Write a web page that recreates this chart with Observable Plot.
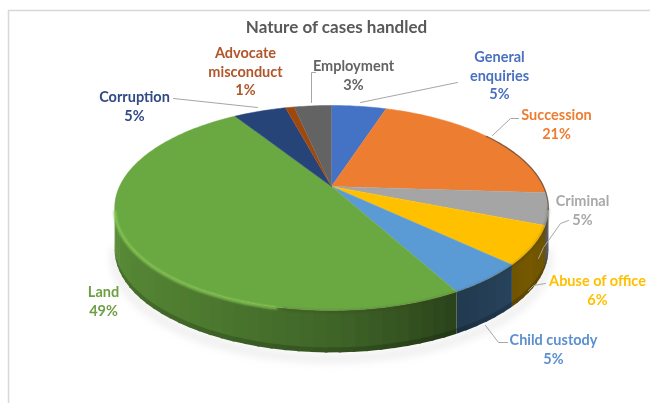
<!DOCTYPE html>
<html><head><meta charset="utf-8">
<script src="https://cdn.jsdelivr.net/npm/d3@7"></script>
<script src="https://cdn.jsdelivr.net/npm/@observablehq/plot@0.6"></script>
<style>html,body{margin:0;padding:0;background:#fff}#c{width:650px;height:403px;overflow:hidden}#c svg{display:block;filter:blur(.7px)}</style>
</head><body><div id="c"></div>
<script>
// --- data (clockwise from the 12 o'clock position)
const categories = ["General\nenquiries","Succession","Criminal","Abuse of office","Child custody","Land","Corruption","Advocate\nmisconduct","Employment"];
const labelled = [5,21,5,6,5,49,5,1,3];
const shares = [5,21,5,6,5,49,4.8,0.8,3.4];
const colors = ["#4472c4","#ed7d31","#a5a5a5","#ffc000","#5b9bd5","#6aa842","#264478","#9e480e","#636363"];
const labelColors = ["#4a70c0","#ed7d31","#a8a8a8","#ffc000","#5b8fd0","#6f9f45","#2f4a85","#b0562a","#636363"];
const titleText = "Nature of cases handled";

// --- layout
const labelAt = [[499,74],[556,123],[582,209],[597,289],[553,348],[103,300],[134,105],[245,70],[353,74]];
const leaders = [
  [[360,102],[457,82]],
  [[492,135],[510,118],[518,118]],
  [[538,258],[543,247],[560,223],[568,220]],
  [[528,290],[533,285],[545,283]],
  [[485,325],[498,342],[507,342]],
  [],
  [[173,98],[257,107]],
  [],
  [[311,102],[311,72],[315,72]]
];
const P = {cx:331, cy:186, A:212, B:98, k:0.2095, depth:42};
const rad = d => d*Math.PI/180;
function proj(deg, z=0){
  const X=Math.sin(rad(deg)), Y=-Math.cos(rad(deg)), w=1-P.k*Y;
  return [P.cx+P.A*X/w, P.cy+P.B*Y/w+z];
}
const total=d3.sum(shares);
let acc=0;
const slices=shares.map((s,i)=>{const a=acc/total*360; acc+=s; return {i,a,b:acc/total*360};});

const mul=(c,f)=>{const r=d3.rgb(c);return d3.rgb(r.r*f,r.g*f,r.b*f).formatHex();};
const wallShade=d3.scaleLinear().domain([102,125,150,165,180,215,258]).range([.4,.46,.38,.5,.6,.74,.85]).clamp(true);

const wallPolys=[];
function poly(id,pts,c){[...pts,pts[0]].forEach(p=>wallPolys.push({id,x:p[0],y:p[1],c}));}
// wall bands, top to bottom: [from, to, brightness]
const bands=[[0,P.depth-5,1],[P.depth-5,P.depth,.82]];
slices.forEach(s=>{
  const a=Math.max(s.a,102), b=Math.min(s.b,258);
  if(a>=b) return;
  const n=Math.ceil((b-a)/3);
  for(let j=0;j<n;j++){
    const t0=a+(b-a)*j/n, t1=Math.min(b,a+(b-a)*(j+1)/n+.6), tm=(t0+t1)/2;
    bands.forEach(([z0,z1,f],bi)=>{
      poly(`w${s.i}-${j}-${bi}`,[proj(t0,z0),proj(t1,z0),proj(t1,z1+(bi?0:1)),proj(t0,z1+(bi?0:1))],mul(colors[s.i],wallShade(tm)*f));
    });
  }
});
// top
const topPolys=[];
slices.forEach(s=>{
  const n=Math.ceil((s.b-s.a)/1);
  topPolys.push({id:s.i,x:P.cx,y:P.cy,c:colors[s.i]});
  for(let j=0;j<=n;j++){const p=proj(s.a+(s.b-s.a)*j/n);topPolys.push({id:s.i,x:p[0],y:p[1],c:colors[s.i]});}
});
const arc=(a,b,z=0)=>d3.range(a,b,1.5).map(t=>{const p=proj(t,z);return {x:p[0],y:p[1]};});
const shadow=arc(100,262,P.depth+6);
const edge=arc(55,104);
const highlight=arc(192,258,1);
const softEdge=arc(102,192,1);
const leaderRows=leaders.flatMap((l,i)=>l.map(p=>({i,x:p[0],y:p[1]})));
const labels=categories.map((n,i)=>({t:`${n}\n${labelled[i]}%`,x:labelAt[i][0],y:labelAt[i][1],c:labelColors[i]}));

const font="Lato, 'Open Sans', sans-serif";
const plot=Plot.plot({
  width:650,height:403,margin:0,
  x:{domain:[0,650],range:[0,650],axis:null},
  y:{domain:[0,403],range:[0,403],axis:null},
  color:{type:"identity"},
  style:{background:"#fff"},
  marks:[
    Plot.ruleY([10],{x1:8,x2:650,stroke:"#d8d8d8",strokeWidth:1.5}),
    Plot.ruleX([8],{y1:10,y2:403,stroke:"#d8d8d8",strokeWidth:1.5}),
    Plot.line(shadow,{x:"x",y:"y",stroke:"#bbb",strokeWidth:7,strokeOpacity:.3,imageFilter:"blur(4px)"}),
    Plot.line(wallPolys,{x:"x",y:"y",z:"id",fill:"c",stroke:"none",imageFilter:"blur(.6px)"}),
    Plot.line(topPolys,{x:"x",y:"y",z:"id",fill:"c",stroke:"c",strokeWidth:.5}),
    Plot.line(softEdge,{x:"x",y:"y",stroke:"#3a3a1a",strokeWidth:2.5,strokeOpacity:.3,imageFilter:"blur(1.2px)"}),
    Plot.line(highlight,{x:"x",y:"y",stroke:"#8fd05a",strokeWidth:2.6,strokeOpacity:.85,imageFilter:"blur(1px)"}),
    Plot.line(edge,{x:"x",y:"y",stroke:"#5a4030",strokeWidth:1.3,strokeOpacity:.7}),
    Plot.line(leaderRows,{x:"x",y:"y",z:"i",stroke:"#a6a6a6",strokeWidth:1}),
    Plot.text(labels,{x:"x",y:"y",text:"t",fill:"c",fontFamily:font,fontWeight:700,fontSize:14.5,lineHeight:1.3}),
    Plot.text([titleText],{x:()=>336,y:()=>27,fill:"#595959",fontFamily:font,fontWeight:700,fontSize:17})
  ]
});
document.getElementById("c").appendChild(plot);
</script></body></html>
